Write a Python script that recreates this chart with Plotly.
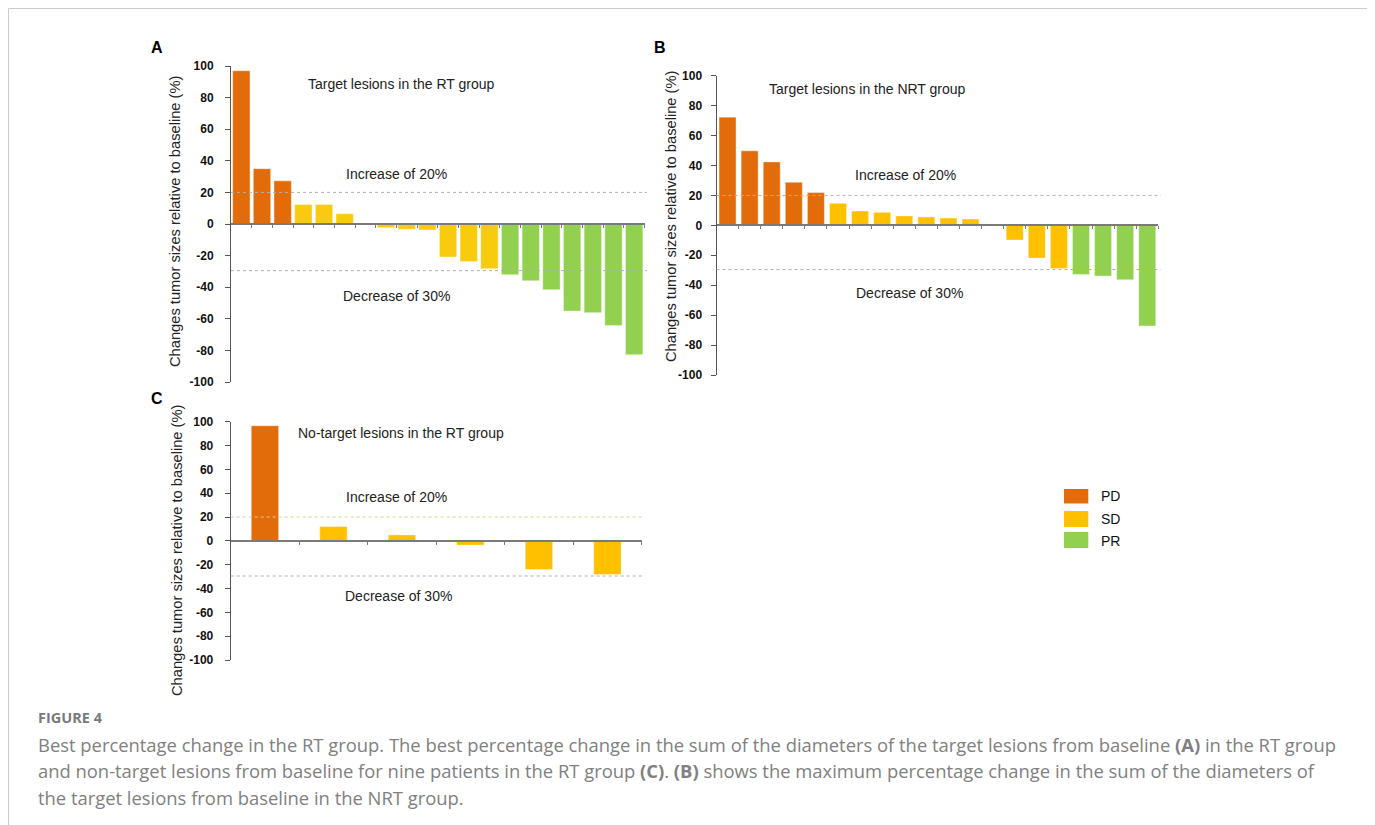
import plotly.graph_objects as go

# ---------------- data ----------------
a_values = [97, 35, 27.3, 12.4, 12.4, 6.5, None, -2.3, -3.4, -3.8, -20.9, -23.8,
            -28.3, -32.1, -35.9, -41.6, -55.1, -56.1, -64.3, -82.7]
a_resp = ['PD', 'PD', 'PD', 'SD', 'SD', 'SD', None, 'SD', 'SD', 'SD', 'SD', 'SD',
          'SD', 'PR', 'PR', 'PR', 'PR', 'PR', 'PR', 'PR']

b_values = [72.3, 49.8, 42.4, 28.8, 21.9, 14.7, 9.6, 8.7, 6.3, 5.6, 4.9, 4.2, None,
            -9.8, -21.9, -28.8, -32.8, -33.9, -36.4, -67.2]
b_resp = ['PD', 'PD', 'PD', 'PD', 'PD', 'SD', 'SD', 'SD', 'SD', 'SD', 'SD', 'SD', None,
          'SD', 'SD', 'SD', 'PR', 'PR', 'PR', 'PR']

c_values = [96.6, 12, 5, -3.6, -24, -28.2]
c_resp = ['PD', 'SD', 'SD', 'SD', 'SD', 'SD']

panel_titles = ['Target lesions in the RT group', 'Target lesions in the NRT group',
                'No-target lesions in the RT group']
panel_letters = ['A', 'B', 'C']
y_ticks = [-100, -80, -60, -40, -20, 0, 20, 40, 60, 80, 100]
y_tick_labels = ['-100', '-80', '-60', '-40', '-20', '0', '20', '40', '60', '80', '100']
threshold_up = 20
threshold_down = -29.5
legend_labels = ['PD', 'SD', 'PR']
y_title = 'Changes tumor sizes relative to baseline (%)'

caption_head = 'FIGURE 4'
caption_lines = [
    'Best percentage change in the RT group. The best percentage change in the sum of the diameters of the target lesions from baseline <b>(A)</b> in the RT group',
    'and non-target lesions from baseline for nine patients in the RT group <b>(C)</b>. <b>(B)</b> shows the maximum percentage change in the sum of the diameters of',
    'the target lesions from baseline in the NRT group.',
]

# ---------------- styles / geometry ----------------
OFF = 8  # page body margin
W, H = 1375 - OFF, 825 - OFF
colors_a = {'PD': '#E36C0A', 'SD': '#F9CB0E', 'PR': '#92D050'}
colors_bc = {'PD': '#E36C0A', 'SD': '#FFC000', 'PR': '#92D050'}
FONT = 'Liberation Sans, Arial, sans-serif'


def px(x):
    return (x - OFF) / W


def py(y):
    return 1 - (y - OFF) / H


fig = go.Figure()

panels = [
    dict(vals=a_values, resp=a_resp, cols=colors_a, xd=(231, 644.5), yd=(382, 66), gap=0.16,
         xa='x', ya='y', lstand=9, title_pos=(175, 222)),
    dict(vals=b_values, resp=b_resp, cols=colors_bc, xd=(716.5, 1158.3), yd=(375, 75.7), gap=0.23,
         xa='x2', ya='y2', lstand=6, title_pos=(671, 217)),
    dict(vals=c_values, resp=c_resp, cols=colors_bc, xd=(230.7, 641.7), yd=(660, 421.7), gap=0.6,
         xa='x3', ya='y3', lstand=9, title_pos=(177, 551)),
]

shapes = []
annotations = []


def ann(text, x, y, size=14, xanchor='center', color='#222', bold=False, family=FONT, **kw):
    annotations.append(dict(text=text, x=px(x), y=py(y), xref='paper', yref='paper',
                            xanchor=xanchor, yanchor='middle', showarrow=False,
                            font=dict(family=family, size=size, color=color,
                                      weight='bold' if bold else 'normal'), **kw))


layout_axes = {}
for i, p in enumerate(panels):
    n = len(p['vals'])
    xs = list(range(n))
    cols = [p['cols'][r] if r else 'rgba(0,0,0,0)' for r in p['resp']]
    fig.add_trace(go.Bar(
        x=xs, y=p['vals'], marker=dict(color=cols, line=dict(color='rgba(255,255,255,0.5)', width=0.8)),
        xaxis=p['xa'], yaxis=p['ya'], showlegend=False, width=1 - p['gap'],
    ))
    sfx = '' if i == 0 else str(i + 1)
    ydom = [py(p['yd'][0]), py(p['yd'][1])]
    layout_axes['xaxis' + sfx] = dict(
        domain=[px(p['xd'][0]), px(p['xd'][1])], range=[-0.5, n - 0.5],
        anchor='free', position=(ydom[0] + ydom[1]) / 2,
        showline=True, linecolor='#7a7a7a', linewidth=1.5,
        ticks='outside', ticklen=3, tickcolor='#7a7a7a', tickwidth=1,
        tickvals=[k + 0.5 for k in range(n)], showticklabels=False,
        showgrid=False, zeroline=False, fixedrange=True,
    )
    layout_axes['yaxis' + sfx] = dict(
        domain=ydom, range=[-100, 100], anchor=p['xa'],
        showline=True, linecolor='#555555', linewidth=1,
        ticks='outside', ticklen=5, tickcolor='#555555',
        tickvals=y_ticks, ticktext=y_tick_labels, ticklabelstandoff=p['lstand'],
        tickfont=dict(family=FONT, size=12, color='#111', weight='bold'),
        showgrid=False, zeroline=False, automargin=False,
    )
    # y-axis title
    ann(y_title, p['title_pos'][0], p['title_pos'][1], size=14.7, textangle=-90)
    line20_col = '#d6cf9c' if i == 2 else '#b0b0b0'
    for yv, col in [(threshold_up, line20_col), (threshold_down, '#b0b0b0')]:
        shapes.append(dict(type='line', xref=p['xa'] + ' domain', yref=p['ya'],
                           x0=0, x1=1.006, y0=yv, y1=yv,
                           line=dict(color=col, width=1, dash='dot')))

fig.update_layout(**layout_axes)

# panel letters
ann(panel_letters[0], 157, 47, size=16, color='#000', bold=True)
ann(panel_letters[1], 660, 48, size=16, color='#000', bold=True)
ann(panel_letters[2], 157, 399, size=16, color='#000', bold=True)

# panel titles
ann(panel_titles[0], 305.7, 84, xanchor='left')
ann(panel_titles[1], 767, 89, xanchor='left')
ann(panel_titles[2], 296, 433, xanchor='left')

# threshold labels
ann('Increase of 20%', 396.7, 174)
ann('Decrease of 30%', 396.7, 296)
ann('Increase of 20%', 905, 175)
ann('Decrease of 30%', 909.5, 293)
ann('Increase of 20%', 396.7, 497)
ann('Decrease of 30%', 398.7, 596)

# legend
leg_rows = [(489, 503.5, 496), (511, 527, 519), (532, 548, 541)]
for lab, (y0, y1, yt) in zip(legend_labels, leg_rows):
    shapes.append(dict(type='rect', xref='paper', yref='paper', x0=px(1064), x1=px(1088.3),
                       y0=py(y1), y1=py(y0), fillcolor=colors_bc[lab], line=dict(width=0)))
    ann(lab, 1099, yt, xanchor='left', color='#111')

# caption
CAP = 'Open Sans, Noto Sans, sans-serif'
ann('<b>' + caption_head + '</b>', 36, 717, size=14.5, xanchor='left', color='#7a7a7a', family=CAP)
for k, line in enumerate(caption_lines):
    ann(line, 36, 744 + k * 26.5, size=18.4, xanchor='left', color='#808080', family=CAP)

# outer frame
shapes.append(dict(type='rect', xref='paper', yref='paper', x0=px(8.5), x1=px(1368),
                   y0=-0.02, y1=py(8.5), line=dict(color='#cccccc', width=1), fillcolor='rgba(0,0,0,0)'))

fig.update_layout(
    width=W, height=H, margin=dict(l=0, r=0, t=0, b=0),
    paper_bgcolor='white', plot_bgcolor='rgba(0,0,0,0)',
    shapes=shapes, annotations=annotations, showlegend=False,
    bargap=0.2,
)

fig.write_html('out.html')
